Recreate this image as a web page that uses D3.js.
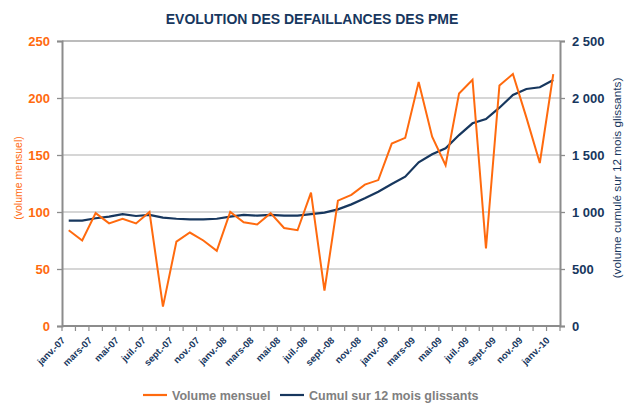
<!DOCTYPE html>
<html>
<head>
<meta charset="utf-8">
<script src="https://cdn.jsdelivr.net/npm/d3@7"></script>
<style>
  body { margin: 0; background: #fff; }
  svg { font-family: "Liberation Sans", Arial, sans-serif; }
</style>
</head>
<body>
<div id="chart"></div>
<script>
// mois (janv.-07 -> janv.-10)
var months = ["janv.", "févr.", "mars", "avr.", "mai", "juin", "juil.", "août", "sept.", "oct.", "nov.", "déc."];
var categories = [];
["07", "08", "09"].forEach(function (yy) {
    months.forEach(function (m) { categories.push(m + "-" + yy); });
});
categories.push("janv.-10");

// volume mensuel (axe gauche)
var mensuel = [84, 75, 99, 90, 94, 90, 100, 17, 74, 82, 75, 66, 100, 91, 89, 99, 86, 84,
               117, 31, 110, 115, 124, 128, 160, 165, 214, 166, 141, 204, 216, 68, 211, 221, 183, 143, 221];
// cumul sur 12 mois glissants (axe droit)
var cumul = [925, 925, 945, 959, 982, 965, 974, 950, 941, 936, 936, 941, 959, 974, 968, 974, 968, 968,
             982, 994, 1023, 1067, 1120, 1178, 1246, 1310, 1436, 1506, 1559, 1675, 1778, 1816, 1915, 2026, 2079, 2094, 2158];

var leftTicks = [0, 50, 100, 150, 200, 250];
var rightTicks = [0, 500, 1000, 1500, 2000, 2500];

var width = 624, height = 403;
var padding = {left: 62, right: 64, top: 41, bottom: 77};
var orange = "#FF6A0E", navy = "#17375E", axisGray = "#8C8C8C";

var svg = d3.select("#chart").append("svg")
    .attr("width", width)
    .attr("height", height);

var xScale = d3.scaleBand()
    .domain(categories)
    .range([padding.left, width - padding.right]);

var yLeft = d3.scaleLinear()
    .domain([0, 250])
    .range([height - padding.bottom, padding.top]);

var yRight = d3.scaleLinear()
    .domain([0, 2500])
    .range([height - padding.bottom, padding.top]);

var plotBottom = height - padding.bottom;

// titre
svg.append("text")
    .attr("x", 312).attr("y", 24)
    .attr("text-anchor", "middle")
    .attr("font-size", 14).attr("font-weight", "bold")
    .attr("fill", navy)
    .text("EVOLUTION DES DEFAILLANCES DES PME");

// grille
svg.append("g")
    .selectAll("line")
    .data(leftTicks.slice(1))
    .enter().append("line")
    .attr("x1", padding.left).attr("x2", width - padding.right)
    .attr("y1", function (d) { return yLeft(d); })
    .attr("y2", function (d) { return yLeft(d); })
    .attr("stroke", function (d) { return d === 250 ? "#A6A6A6" : "#C8C8C8"; })
    .attr("stroke-width", 1.3);

// axe gauche
var leftAxis = svg.append("g")
    .attr("transform", "translate(" + padding.left + ",0)")
    .call(d3.axisLeft(yLeft).tickValues(leftTicks).tickSize(5).tickPadding(7));
leftAxis.select(".domain").attr("stroke", axisGray).attr("stroke-width", 2);
leftAxis.selectAll(".tick line").attr("stroke", axisGray).attr("stroke-width", 1.3);
leftAxis.selectAll("text")
    .attr("fill", orange).attr("font-size", 13).attr("font-weight", "bold")
    .attr("font-family", "Liberation Sans, Arial, sans-serif");

// axe droit
var fmt = function (d) { return d3.format(",")(d).replace(/,/g, " "); };
var rightAxis = svg.append("g")
    .attr("transform", "translate(" + (width - padding.right) + ",0)")
    .call(d3.axisRight(yRight).tickValues(rightTicks).tickSize(5).tickPadding(7).tickFormat(fmt));
rightAxis.select(".domain").attr("stroke", axisGray).attr("stroke-width", 2);
rightAxis.selectAll(".tick line").attr("stroke", axisGray).attr("stroke-width", 1.3);
rightAxis.selectAll("text")
    .attr("fill", navy).attr("font-size", 13).attr("font-weight", "bold")
    .attr("font-family", "Liberation Sans, Arial, sans-serif");

// axe des x : ligne + graduations aux limites des catégories
svg.append("line")
    .attr("x1", padding.left).attr("x2", width - padding.right)
    .attr("y1", plotBottom).attr("y2", plotBottom)
    .attr("stroke", axisGray).attr("stroke-width", 2);

var boundaries = categories.map(function (c) { return xScale(c); });
boundaries.push(xScale.range()[1]);
svg.append("g")
    .selectAll("line")
    .data(boundaries)
    .enter().append("line")
    .attr("x1", function (d) { return d; }).attr("x2", function (d) { return d; })
    .attr("y1", plotBottom).attr("y2", plotBottom + 5)
    .attr("stroke", axisGray).attr("stroke-width", 1.2);

// libellés mois (un sur deux)
svg.append("g")
    .selectAll("text")
    .data(categories.filter(function (d, i) { return i % 2 === 0; }))
    .enter().append("text")
    .attr("transform", function (d) {
        var x = xScale(d) + xScale.bandwidth() / 2 - 3;
        return "translate(" + x + "," + (plotBottom + 15) + ") rotate(-45)";
    })
    .attr("text-anchor", "end")
    .attr("font-size", 9.5).attr("font-weight", "bold")
    .attr("fill", navy)
    .text(function (d) { return d; });

// titres d'axes
svg.append("text")
    .attr("transform", "translate(22,178) rotate(-90)")
    .attr("text-anchor", "middle")
    .attr("font-size", 10.5).attr("fill", orange)
    .text("(volume mensuel)");

svg.append("text")
    .attr("transform", "translate(621,178) rotate(-90)")
    .attr("text-anchor", "middle")
    .attr("font-size", 11.8).attr("fill", navy)
    .text("(volume cumulé sur 12 mois glissants)");

// courbes
var cx = function (d, i) { return xScale(categories[i]) + xScale.bandwidth() / 2; };

svg.append("path")
    .datum(cumul)
    .attr("fill", "none")
    .attr("stroke", navy).attr("stroke-width", 2.2)
    .attr("d", d3.line().x(cx).y(function (d) { return yRight(d); }));

svg.append("path")
    .datum(mensuel)
    .attr("fill", "none")
    .attr("stroke", orange).attr("stroke-width", 2)
    .attr("stroke-linejoin", "miter")
    .attr("d", d3.line().x(cx).y(function (d) { return yLeft(d); }));

// légende
var legend = [
    {label: "Volume mensuel", color: orange, x: 143},
    {label: "Cumul sur 12 mois glissants", color: navy, x: 280}
];
var lg = svg.append("g").selectAll("g").data(legend).enter().append("g");
lg.append("line")
    .attr("x1", function (d) { return d.x; }).attr("x2", function (d) { return d.x + 24; })
    .attr("y1", 395).attr("y2", 395)
    .attr("stroke", function (d) { return d.color; }).attr("stroke-width", 2.2);
lg.append("text")
    .attr("x", function (d) { return d.x + 29; }).attr("y", 400)
    .attr("font-size", 12.5).attr("font-weight", "bold")
    .attr("fill", "#808080")
    .text(function (d) { return d.label; });
</script>
</body>
</html>
